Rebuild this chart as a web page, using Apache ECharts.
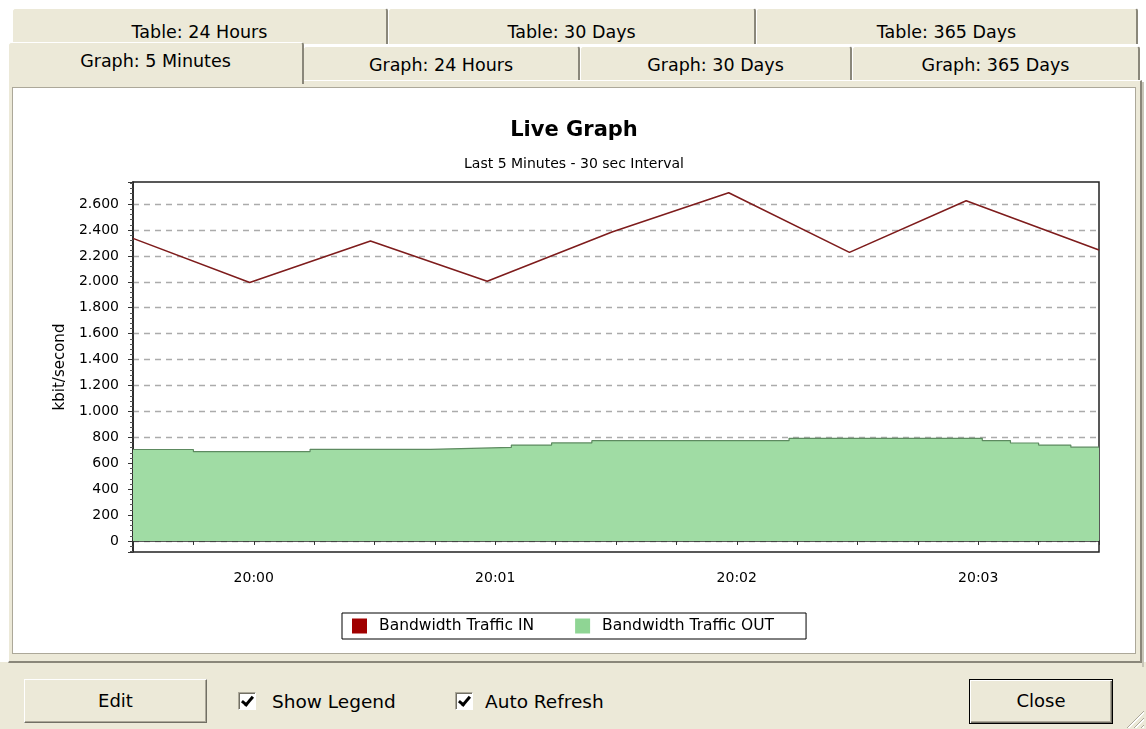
<!DOCTYPE html>
<html>
<head>
<meta charset="utf-8">
<script src="https://cdn.jsdelivr.net/npm/echarts@6/dist/echarts.min.js"></script>
<style>
  html, body { margin:0; padding:0; }
  body { width:1146px; height:729px; overflow:hidden; background:#ffffff; position:relative; font-family:"DejaVu Sans", sans-serif; color:#000; }
  .abs { position:absolute; box-sizing:border-box; }
  .tab { position:absolute; box-sizing:border-box; background:#ECE9D8; border-top:1px solid #fff; border-left:1px solid #fff; border-right:2px solid #8a877a; border-radius:3px 3px 0 0; text-align:center; font-size:17.5px; line-height:20px; white-space:nowrap; }
  .btn { position:absolute; box-sizing:border-box; background:#ECE9D8; border-top:1px solid #fff; border-left:1px solid #fff; border-right:1px solid #716F64; border-bottom:1px solid #716F64; box-shadow: inset -1px -1px 0 #ACA899; text-align:center; font-size:18px; }
  .chk { position:absolute; box-sizing:border-box; width:18px; height:18px; background:#fff; border-top:1px solid #ACA899; border-left:1px solid #ACA899; border-right:1px solid #fff; border-bottom:1px solid #fff; box-shadow: inset 1px 1px 0 #716F64; }
  .chk::after { content:""; position:absolute; left:5px; top:1px; width:4px; height:9px; border-right:3px solid #000; border-bottom:3px solid #000; transform:rotate(40deg); }
  .lbl { position:absolute; font-size:18.5px; line-height:22px; white-space:nowrap; }
</style>
</head>
<body>
<!-- back row tabs -->
<div class="tab" style="left:12px; top:8px; width:376px; height:36px; padding-top:13px;">Table: 24 Hours</div>
<div class="tab" style="left:388px; top:8px; width:368px; height:36px; padding-top:13px;">Table: 30 Days</div>
<div class="tab" style="left:756px; top:8px; width:382px; height:36px; padding-top:13px;">Table: 365 Days</div>
<!-- front row tabs -->
<div class="tab" style="left:303px; top:46px; width:277px; height:36px; padding-top:8px;">Graph: 24 Hours</div>
<div class="tab" style="left:580px; top:46px; width:272px; height:36px; padding-top:8px;">Graph: 30 Days</div>
<div class="tab" style="left:852px; top:46px; width:288px; height:36px; padding-top:8px;">Graph: 365 Days</div>
<!-- bottom beige strip -->
<div class="abs" style="left:0; top:662px; width:1146px; height:67px; background:#ECE9D8;"></div>
<!-- panel -->
<div class="abs" style="left:8px; top:80px; width:1134px; height:583px; background:#ECE9D8; border-top:1px solid #fff; border-left:1px solid #fff; border-right:2px solid #8a877a; border-bottom:2px solid #8a877a;"></div>
<!-- selected tab -->
<div class="tab" style="left:8px; top:42px; width:296px; height:42px; padding-top:8px; border-right:2px solid #8a877a; z-index:2;">Graph: 5 Minutes</div>
<!-- white chart area -->
<div class="abs" style="left:12px; top:87px; width:1124px; height:567px; background:#fff; border:1px solid #ACA899;"></div>
<div id="chart" class="abs" style="left:13px; top:88px; width:1122px; height:565px;"></div>
<!-- window right border -->
<div class="abs" style="left:1142px; top:82px; width:2px; height:585px; background:#c8c5b8;"></div>
<!-- bottom controls -->
<div class="btn" style="left:24px; top:679px; width:183px; height:44px; line-height:42px;">Edit</div>
<div class="chk" style="left:238px; top:692px;"></div>
<div class="lbl" style="left:272px; top:691px;">Show Legend</div>
<div class="chk" style="left:455px; top:692px;"></div>
<div class="lbl" style="left:485px; top:691px;">Auto Refresh</div>
<div class="btn" style="left:969px; top:679px; width:144px; height:45px; line-height:41px; border:1px solid #000; box-shadow: inset 1px 1px 0 #fff, inset -1px -1px 0 #716F64, inset -2px -2px 0 #ACA899;">Close</div>
<div class="abs" style="left:1126px; top:710px; width:18px; height:18px; background:repeating-linear-gradient(135deg, transparent 0 3px, #ACA899 3px 4px, #fff 4px 5px);clip-path:polygon(100% 0,100% 100%,0 100%);"></div>

<script>
// ---- data ----
var inTimes  = ['19:59:30','19:59:59','20:00:29','20:00:58','20:01:29','20:01:58','20:02:28','20:02:57','20:03:30'];
var inValues = [2335, 1995, 2315, 2005, 2385, 2687, 2227, 2625, 2245];

var outTimes  = ['19:59:30','19:59:45','20:00:14','20:00:44','20:01:04','20:01:14','20:01:24','20:02:13','20:03:01','20:03:08','20:03:15','20:03:23','20:03:30'];
var outValues = [706, 690, 707, 722, 740, 757, 774, 792, 775, 756, 740, 724, 724];

var axisStart = '19:59:30';
var axisEnd   = '20:03:30';
var yMin = -85, yMax = 2770;

var seriesNames = ['Bandwidth Traffic IN', 'Bandwidth Traffic OUT'];
var titleText = 'Live Graph';
var subtitleText = 'Last 5 Minutes - 30 sec Interval';
var yAxisName = 'kbit/second';

function toMs(s) {
  var p = s.split(':').map(Number);
  return Date.UTC(2000, 0, 1, p[0], p[1], p[2]);
}
function pair(ts, vs) { return ts.map(function (t, i) { return [toMs(t), vs[i]]; }); }
function fmtThousands(v) {
  var s = String(Math.round(Math.abs(v)));
  s = s.replace(/\B(?=(\d{3})+(?!\d))/g, '.');
  return (v < 0 ? '-' : '') + s;
}
function pad(n) { return (n < 10 ? '0' : '') + n; }

var font = '"DejaVu Sans", sans-serif';
var chart = echarts.init(document.getElementById('chart'), null, { renderer: 'canvas' });
chart.setOption({
  animation: false,
  backgroundColor: '#ffffff',
  title: [
    { text: titleText, left: 'center', top: 27, textStyle: { fontFamily: font, fontSize: 21, fontWeight: 'bold', color: '#000' } },
    { text: subtitleText, left: 'center', top: 64, textStyle: { fontFamily: font, fontSize: 14, fontWeight: 'normal', color: '#000' } }
  ],
  legend: {
    data: seriesNames,
    top: 525,
    left: 329,
    icon: 'rect',
    itemWidth: 15,
    itemHeight: 15,
    itemGap: 41,
    padding: [5, 32, 5, 10],
    borderColor: '#000',
    borderWidth: 1,
    textStyle: { fontFamily: font, fontSize: 15.5, color: '#000', padding: [0, 0, 0, 7] }
  },
  grid: {
    left: 120, right: 36, top: 94, bottom: 101,
    show: true, borderColor: '#222', borderWidth: 1.5, backgroundColor: '#fff'
  },
  xAxis: {
    type: 'value',
    min: toMs(axisStart),
    max: toMs(axisEnd),
    interval: 15000,
    axisLine: { show: true, lineStyle: { color: '#222', width: 1.5 } },
    axisTick: { show: true, inside: false, length: 4, lineStyle: { color: '#333' } },
    splitLine: { show: false },
    axisLabel: {
      interval: 0, margin: 19, color: '#000', fontFamily: font, fontSize: 14,
      showMinLabel: true, showMaxLabel: true,
      formatter: function (v) {
        var d = new Date(v);
        if (d.getUTCSeconds() !== 0) return '';
        return pad(d.getUTCHours()) + ':' + pad(d.getUTCMinutes());
      }
    }
  },
  yAxis: {
    type: 'value',
    min: yMin, max: yMax,
    minInterval: 200, maxInterval: 200,
    name: yAxisName,
    nameLocation: 'middle',
    nameGap: 62,
    nameRotate: 90,
    nameTextStyle: { fontFamily: font, fontSize: 15, color: '#000' },
    axisLine: { show: true, lineStyle: { color: '#222', width: 1.5 } },
    axisTick: { show: true, length: 5, lineStyle: { color: '#333' } },
    minorTick: { show: true, splitNumber: 5, length: 3, lineStyle: { color: '#555' } },
    splitLine: { show: true, showMinLine: false, showMaxLine: false, lineStyle: { color: '#ababab', type: [6, 5], width: 1.3 } },
    axisLabel: {
      margin: 14, color: '#000', fontFamily: font, fontSize: 14,
      showMinLabel: false, showMaxLabel: false,
      formatter: function (v) { return fmtThousands(v); }
    }
  },
  series: [
    {
      name: seriesNames[1],
      type: 'line',
      step: 'end',
      data: pair(outTimes, outValues),
      showSymbol: false,
      itemStyle: { color: '#8fd594' },
      lineStyle: { color: '#5d8a60', width: 1.2 },
      areaStyle: { color: '#a0dca4', opacity: 1, origin: 0 },
      z: 2
    },
    {
      name: seriesNames[0],
      type: 'line',
      data: pair(inTimes, inValues),
      showSymbol: false,
      itemStyle: { color: '#a00000' },
      lineStyle: { color: '#7e1c1c', width: 1.6 },
      z: 3
    }
  ]
});
</script>
</body>
</html>
